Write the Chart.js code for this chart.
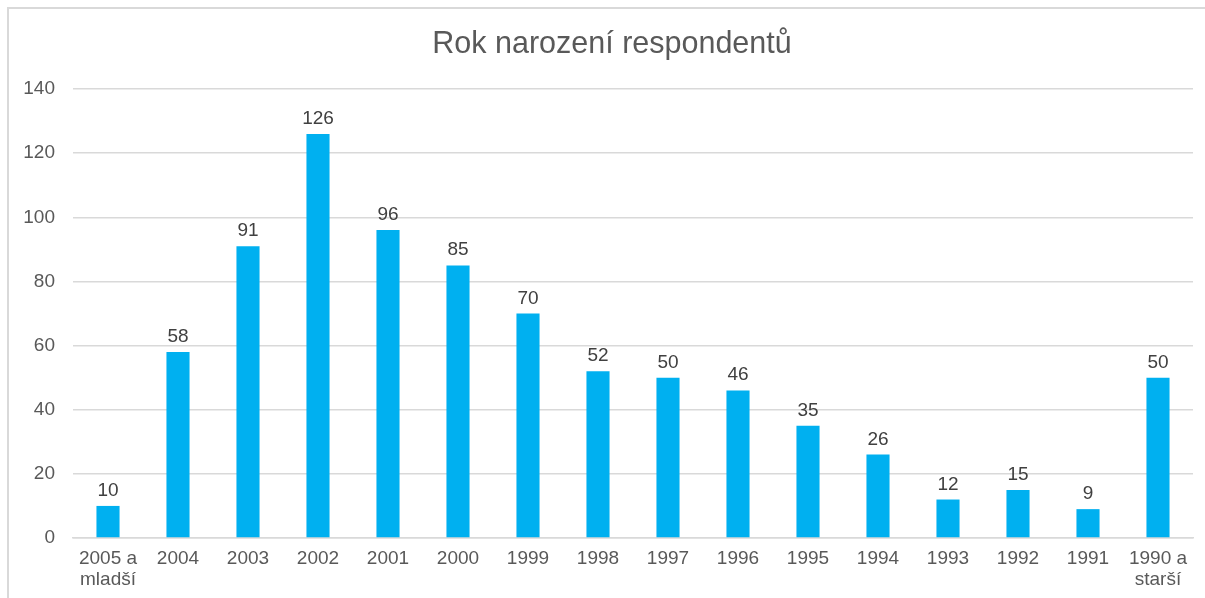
<!DOCTYPE html>
<html>
<head>
    <meta charset="UTF-8">
    <title>Rok narození respondentů</title>
    <script src="https://cdn.jsdelivr.net/npm/chart.js@4.4.1/dist/chart.umd.min.js"></script>
    <style>
      html, body { margin: 0; padding: 0; background: #fff; }
      #wrap { position: relative; width: 1205px; height: 598px; overflow: hidden; }
      #frame {
        position: absolute; left: 7px; top: 7px; width: 1300px; height: 700px;
        border-top: 2px solid #d9d9d9; border-left: 2px solid #d9d9d9;
        pointer-events: none;
      }
    </style>
</head>
<body>
  <div id="wrap">
    <canvas id="myChart" width="1205" height="598"></canvas>
    <div id="frame"></div>
  </div>

  <script>
    const chartTitle = 'Rok narození respondentů';
    const categories = [
      ['2005 a', 'mladší'], '2004', '2003', '2002', '2001', '2000', '1999', '1998',
      '1997', '1996', '1995', '1994', '1993', '1992', '1991', ['1990 a', 'starší']
    ];
    const counts = [10, 58, 91, 126, 96, 85, 70, 52, 50, 46, 35, 26, 12, 15, 9, 50];
    const yTicks = [0, 20, 40, 60, 80, 100, 120, 140];

    const fontFamily = '"Liberation Sans", Arial, Helvetica, sans-serif';

    // draws the value above each bar
    const valueLabels = {
      id: 'valueLabels',
      afterDatasetsDraw(chart) {
        const ctx = chart.ctx;
        const meta = chart.getDatasetMeta(0);
        ctx.save();
        ctx.font = '19px ' + fontFamily;
        ctx.fillStyle = '#404040';
        ctx.textAlign = 'center';
        ctx.textBaseline = 'alphabetic';
        meta.data.forEach((bar, i) => {
          ctx.fillText(String(counts[i]), bar.x, bar.y - 10);
        });
        ctx.restore();
      }
    };

    // title is centred on the outer frame, not on the canvas
    const frameTitle = {
      id: 'frameTitle',
      afterDraw(chart) {
        const ctx = chart.ctx;
        ctx.save();
        ctx.font = '30.5px ' + fontFamily;
        ctx.fillStyle = '#595959';
        ctx.textAlign = 'center';
        ctx.textBaseline = 'middle';
        ctx.fillText(chartTitle, 612, 45);
        ctx.restore();
      }
    };

    const ctx = document.getElementById('myChart').getContext('2d');
    const myChart = new Chart(ctx, {
      type: 'bar',
      data: {
        labels: categories,
        datasets: [{
          data: counts,
          backgroundColor: '#00B0F0',
          borderWidth: 0,
          categoryPercentage: 1,
          barPercentage: 0.33
        }]
      },
      plugins: [valueLabels, frameTitle],
      options: {
        responsive: false,
        animation: false,
        layout: { padding: { left: 0, right: 12, top: 89, bottom: 0 } },
        plugins: {
          legend: { display: false },
          tooltip: { enabled: false },
          title: { display: false }
        },
        scales: {
          x: {
            grid: { display: false, drawTicks: false },
            border: { display: true, color: '#d9d9d9', width: 1.5 },
            ticks: {
              color: '#595959',
              font: { family: fontFamily, size: 19, lineHeight: 1.1 },
              padding: 10,
              maxRotation: 0,
              autoSkip: false
            },
            afterFit(scale) { scale.height = 60; }
          },
          y: {
            min: 0,
            max: 140,
            afterBuildTicks(scale) { scale.ticks = yTicks.map(v => ({ value: v })); },
            grid: { color: '#d9d9d9', lineWidth: 1.5, drawTicks: false },
            border: { display: false },
            ticks: {
              color: '#595959',
              font: { family: fontFamily, size: 19 },
              padding: 18
            },
            afterFit(scale) { scale.width = 73; }
          }
        }
      }
    });
  </script>
</body>
</html>
